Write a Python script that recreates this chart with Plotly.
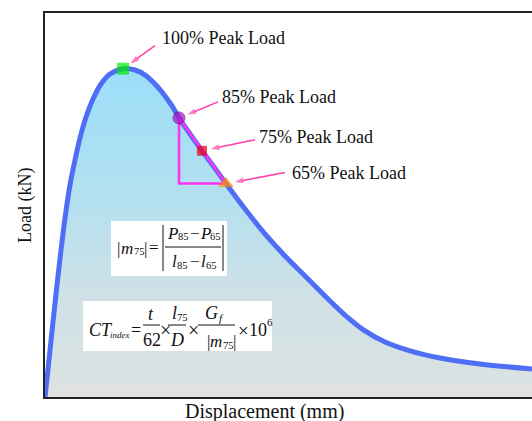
import math
import plotly.graph_objects as go

# Load–displacement curve (displacement in mm, load in kN)
displacement = [0.0, 0.082, 0.164, 0.246, 0.329, 0.411, 0.513, 0.616, 0.719, 0.842,
                0.986, 1.150, 1.335, 1.602, 1.848, 2.053, 2.259, 2.464, 2.608, 2.752,
                2.977, 3.224, 3.470, 3.717, 4.107, 4.517, 4.928, 5.339, 5.749, 6.160,
                6.571, 6.982, 7.495, 8.111, 8.932, 10.0]
load = [0.0, 1.93, 3.91, 5.83, 7.66, 9.32, 11.04, 12.34, 13.49, 14.58,
        15.52, 16.30, 16.82, 17.10, 17.03, 16.77, 16.30, 15.68, 15.16, 14.535,
        13.70, 12.825, 11.98, 11.115, 9.79, 8.49, 7.34, 6.30, 5.26, 4.27,
        3.44, 2.86, 2.40, 2.03, 1.72, 1.46]

# Characteristic points on the post-peak branch
peak_load = 17.10
levels = [1.00, 0.85, 0.75, 0.65]
level_labels = ["100% Peak Load", "85% Peak Load", "75% Peak Load", "65% Peak Load"]
level_disp = [1.602, 2.752, 3.224, 3.717]
level_load = [peak_load * f for f in levels]

X_RANGE = [0, 10]
Y_RANGE = [0, 20]

W, H = 532, 421
ML, MR, MT, MB = 45, 0, 13, 24
PW, PH = W - ML - MR, H - MT - MB
FONT = "Liberation Serif, Times New Roman, serif"
PINK = "#ff40a8"
X_PER_PX = (X_RANGE[1] - X_RANGE[0]) / PW
Y_PER_PX = (Y_RANGE[1] - Y_RANGE[0]) / PH


def px(x):
    return (x - ML) / PW


def py(y):
    return (H - MB - y) / PH


fig = go.Figure()

fig.add_trace(go.Scatter(
    x=displacement, y=load, mode="lines",
    line=dict(color="#4d6ef5", width=5, shape="spline", smoothing=1.0),
    fill="tozeroy",
    fillgradient=dict(
        type="vertical",
        colorscale=[[0.0, "#e2e2e2"], [0.034, "#e2e2e2"], [0.037, "#dbe2e2"],
                    [0.3, "#cfe1e6"], [0.6, "#b4e0f0"], [1.0, "#9bdff9"]],
    ),
    hoverinfo="skip", showlegend=False,
))

# Slope triangle between the 85% and 65% points
fig.add_trace(go.Scatter(
    x=[level_disp[1], level_disp[1], level_disp[3], level_disp[1]],
    y=[level_load[1], level_load[3], level_load[3], level_load[1]],
    mode="lines", line=dict(color="#ff33ee", width=2.5),
    hoverinfo="skip", showlegend=False,
))

symbols = ["square", "circle", "square", "triangle-up"]
colors = ["#00ee00", "#a810c4", "#e8001a", "#ff8c00"]
sizes = [11, 12, 9, 12]
edge = ["#00ee00", "#7a0090", "#e8001a", "#ff8c00"]
fig.add_trace(go.Scatter(
    x=level_disp, y=level_load, mode="markers",
    marker=dict(symbol=symbols, color=colors, size=sizes,
                line=dict(color=edge, width=1)),
    hoverinfo="skip", showlegend=False,
))

annotations = []
# label offsets and arrow tail offsets (pixels, right / down) from each point
label_shift = [(37, 31), (41, 21), (55, 14), (64, 11)]
arrow_tail = [(32, -23), (39, -16), (53, -11), (59, -11)]
STANDOFF = 9
for i, lab in enumerate(level_labels):
    tx, ty = arrow_tail[i]
    dist = math.hypot(tx, ty)
    hx, hy = tx * STANDOFF / dist, ty * STANDOFF / dist
    fig.add_trace(go.Scatter(
        x=[level_disp[i] + tx * X_PER_PX, level_disp[i] + hx * X_PER_PX],
        y=[level_load[i] - ty * Y_PER_PX, level_load[i] - hy * Y_PER_PX],
        mode="lines+markers",
        line=dict(color=PINK, width=1.5),
        marker=dict(symbol="arrow", angleref="previous", size=[0, 9], color=PINK,
                    line=dict(width=0)),
        hoverinfo="skip", showlegend=False,
    ))
    annotations.append(dict(
        x=level_disp[i], y=level_load[i], xref="x", yref="y",
        text=lab, showarrow=False, xanchor="left", yanchor="middle",
        xshift=label_shift[i][0], yshift=label_shift[i][1],
        font=dict(family=FONT, size=18, color="#111"),
    ))


def txt(x, y, s, size=18, anchor="left", italic=False, angle=None):
    ann = dict(
        x=px(x), y=py(y), xref="paper", yref="paper", text=s, showarrow=False,
        xanchor=anchor, yanchor="middle", borderpad=0,
        font=dict(family=FONT, size=size, color="#111",
                  style="italic" if italic else "normal"),
    )
    if angle is not None:
        ann["textangle"] = angle
    annotations.append(ann)


shapes = []


def rect(x0, y0, x1, y1):
    shapes.append(dict(type="rect", xref="paper", yref="paper",
                       x0=px(x0), x1=px(x1), y0=py(y1), y1=py(y0),
                       fillcolor="white", line=dict(width=0), layer="above"))


def hline(x0, x1, y, w=1):
    shapes.append(dict(type="line", xref="paper", yref="paper",
                       x0=px(x0), x1=px(x1), y0=py(y), y1=py(y),
                       line=dict(color="#111", width=w), layer="above"))


def vline(x, y0, y1, w=1):
    shapes.append(dict(type="line", xref="paper", yref="paper",
                       x0=px(x), x1=px(x), y0=py(y0), y1=py(y1),
                       line=dict(color="#111", width=w), layer="above"))


# |m75| = |(P85 - P65) / (l85 - l65)|
rect(111, 221, 227, 276)
txt(116, 248, "|", 17)
txt(120, 248, "m", 17, italic=True)
txt(132.5, 252, "75", 10.5)
txt(143, 248, "|", 17)
txt(148, 247, "=", 17)
vline(163, 225, 271)
vline(223, 225, 271)
txt(166, 233, "P", 17, italic=True)
txt(176.5, 237, "85", 10.5)
txt(188.5, 233, "−", 17)
txt(198.5, 233, "P", 17, italic=True)
txt(209, 237, "65", 10.5)
hline(165, 221, 247)
txt(171, 261, "l", 17, italic=True)
txt(176, 265, "85", 10.5)
txt(189, 261, "−", 17)
txt(200, 261, "l", 17, italic=True)
txt(205, 265, "65", 10.5)

# CT_index = t/62 × l75/D × Gf/|m75| × 10^6
rect(83, 301, 272, 351)
txt(88, 330, "CT", 18, italic=True)
txt(109, 335, "index", 9, italic=True)
txt(136, 330, "=", 18, anchor="center")
txt(151, 314, "t", 18, anchor="center", italic=True)
hline(143, 160, 325)
txt(152, 340, "62", 18, anchor="center")
txt(165, 330, "×", 20, anchor="center")
txt(171, 313, "l", 18, italic=True)
txt(176, 317, "75", 10.5)
hline(168, 186, 325)
txt(177, 340, "D", 18, anchor="center", italic=True)
txt(193, 330, "×", 20, anchor="center")
txt(204, 313, "G", 18, italic=True)
txt(217.5, 318, "f", 11, italic=True)
hline(198, 235, 325)
txt(205.5, 341, "|", 17)
txt(209, 341, "m", 17, italic=True)
txt(221.5, 345, "75", 10.5)
txt(231.5, 341, "|", 17)
txt(243, 330, "×", 19, anchor="center")
txt(248, 330, "10", 18)
txt(266, 322, "6", 11)

# axis titles
txt(25, 206, "Load (kN)", 18, anchor="center", angle=-90)
txt(264, 411, "Displacement (mm)", 20, anchor="center")

fig.update_layout(
    width=W, height=H, autosize=False,
    margin=dict(l=ML, r=MR, t=MT, b=MB, pad=0),
    paper_bgcolor="white", plot_bgcolor="white",
    showlegend=False,
    xaxis=dict(range=X_RANGE, showgrid=False, zeroline=False, showticklabels=False,
               ticks="", showline=True, linecolor="#222", linewidth=1.5, mirror=True),
    yaxis=dict(range=Y_RANGE, showgrid=False, zeroline=False, showticklabels=False,
               ticks="", showline=True, linecolor="#222", linewidth=1.5),
    annotations=annotations,
    shapes=shapes,
)

fig.write_html("out.html")
